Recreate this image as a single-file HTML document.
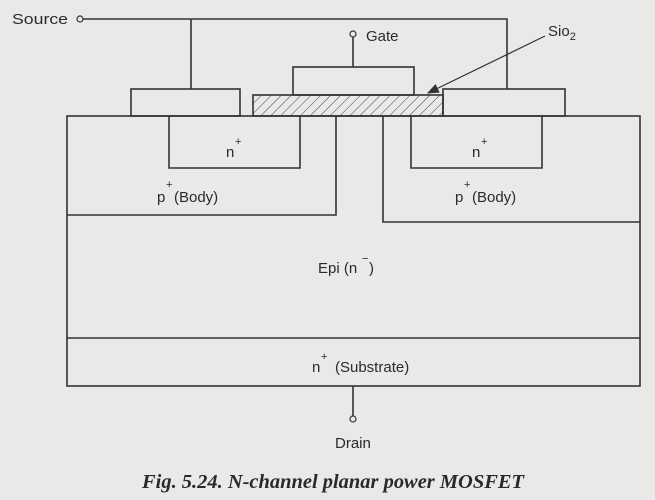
<!DOCTYPE html>
<html><head><style>
html,body{margin:0;padding:0;background:#e9e9e7;}
svg{display:block;}
text{font-family:"Liberation Sans",sans-serif;fill:#2a2a2a;}
</style></head><body>
<svg width="655" height="500" viewBox="0 0 655 500">
<defs>
<pattern id="h" width="7" height="7" patternUnits="userSpaceOnUse" patternTransform="rotate(45)">
<line x1="0" y1="0" x2="0" y2="7" stroke="#444" stroke-width="1"/>
</pattern>
<marker id="a" markerWidth="10" markerHeight="8" refX="9" refY="4" orient="auto">
<path d="M0,0 L10,4 L0,8 z" fill="#333"/></marker>
</defs>
<g fill="none" stroke="#333" stroke-width="1.6">
<circle cx="80" cy="19" r="3" stroke-width="1.2"/>
<polyline points="83,19 507,19 507,89"/>
<line x1="191" y1="19" x2="191" y2="89"/>
<rect x="131" y="89" width="109" height="27"/>
<rect x="443" y="89" width="122" height="27"/>
<rect x="293" y="67" width="121" height="28"/>
<line x1="353" y1="67" x2="353" y2="37"/>
<circle cx="353" cy="34" r="3" stroke-width="1.2"/>
<rect x="253" y="95" width="190" height="21" fill="url(#h)"/>
<line x1="545" y1="36" x2="428" y2="93" stroke-width="1.2" marker-end="url(#a)"/>
<rect x="67" y="116" width="573" height="270"/>
<polyline points="67,215 336,215 336,116"/>
<polyline points="640,222 383,222 383,116"/>
<polyline points="169,116 169,168 300,168 300,116"/>
<polyline points="411,116 411,168 542,168 542,116"/>
<line x1="67" y1="338" x2="640" y2="338"/>
<line x1="353" y1="386" x2="353" y2="416"/>
<circle cx="353" cy="419" r="3" stroke-width="1.2"/>
</g>
<g font-size="15">
<text x="12" y="24" textLength="56" lengthAdjust="spacingAndGlyphs">Source</text>
<text x="366" y="41">Gate</text>
<text x="548" y="36">Sio<tspan font-size="11" dy="4">2</tspan></text>
<text x="226" y="157">n</text><text x="235" y="145" font-size="11">+</text>
<text x="472" y="157">n</text><text x="481" y="145" font-size="11">+</text>
<text x="157" y="202">p</text><text x="166" y="188" font-size="11">+</text><text x="174" y="202">(Body)</text>
<text x="455" y="202">p</text><text x="464" y="188" font-size="11">+</text><text x="472" y="202">(Body)</text>
<text x="318" y="273">Epi (n</text><text x="362" y="262" font-size="11">−</text><text x="369" y="273">)</text>
<text x="312" y="372">n</text><text x="321" y="360" font-size="11">+</text><text x="335" y="372">(Substrate)</text>
<text x="335" y="448">Drain</text>
</g>
<text x="142" y="488" textLength="382" lengthAdjust="spacingAndGlyphs" style="font-family:'Liberation Serif',serif;font-weight:bold;font-style:italic;font-size:20px">Fig. 5.24. N-channel planar power MOSFET</text>
</svg>
</body></html>
